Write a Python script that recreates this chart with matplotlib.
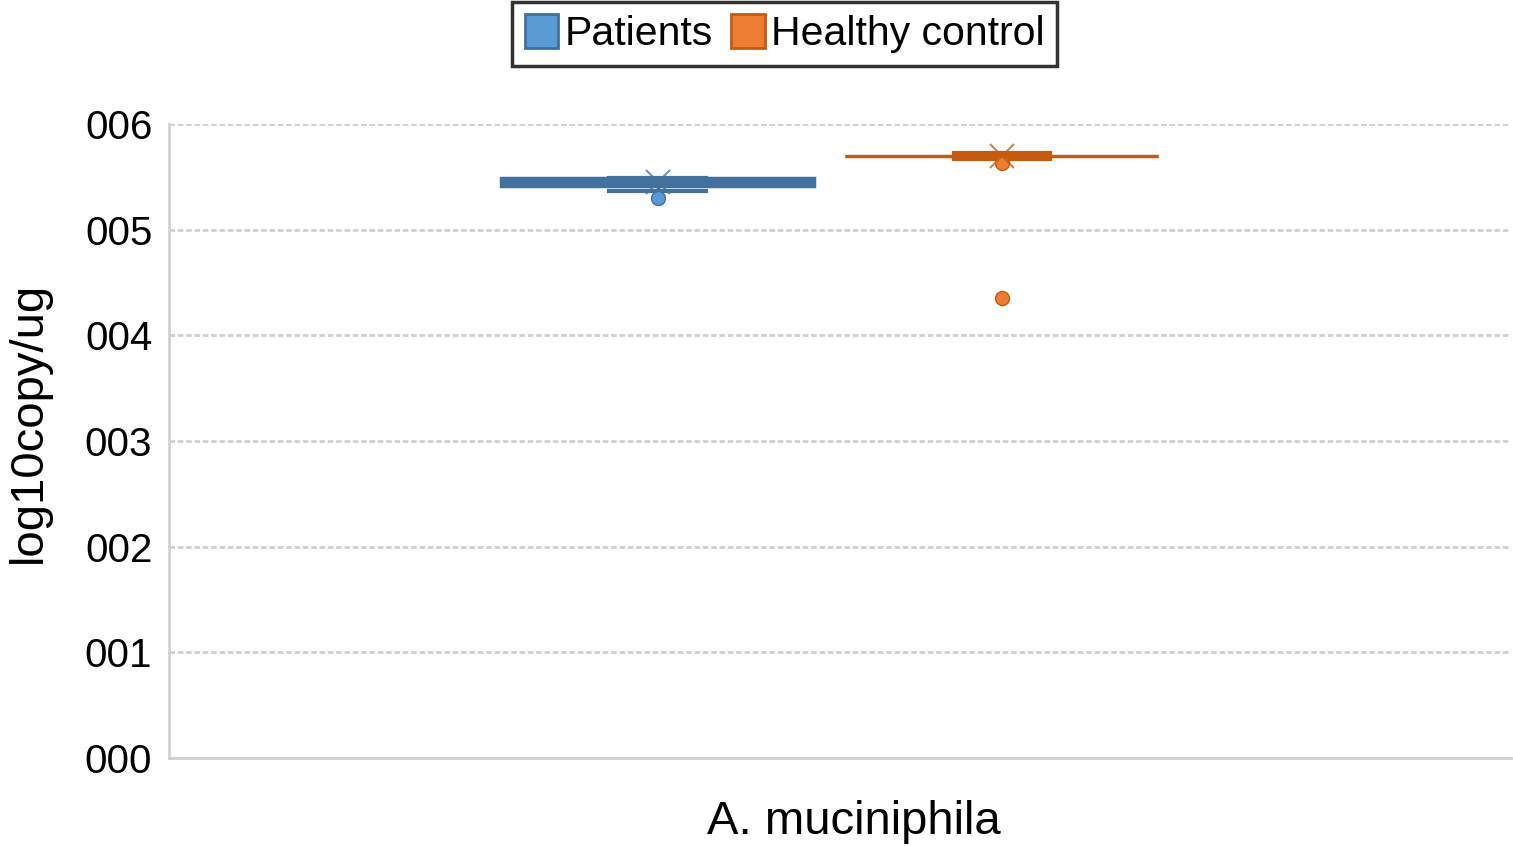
import matplotlib
matplotlib.use('Agg')
import matplotlib.pyplot as plt
from matplotlib.patches import Patch

plt.rcParams['font.family'] = ['Liberation Sans', 'DejaVu Sans']

groups = ['Patients', 'Healthy control']
category = 'A. muciniphila'
q1 = [5.413, 5.697]
q3 = [5.489, 5.700]
med = [5.45, 5.698]
whislo = [5.366, 5.670]
whishi = [5.489, 5.730]
means = [5.45, 5.70]
fliers = [[5.30], [5.63, 4.35]]
yticks = [0, 1, 2, 3, 4, 5, 6]
ytick_labels = ['000', '001', '002', '003', '004', '005', '006']

fill_colors = ['#5B9BD5', '#ED7D31']
edge_colors = ['#41719C', '#C55A11']


def main():
    fig = plt.figure(figsize=(15.13, 8.46), dpi=100)
    ax = fig.add_axes([0.1117, 0.104, 0.887, 0.7494])

    for i in range(len(groups)):
        stats = [{'med': med[i], 'q1': q1[i], 'q3': q3[i],
                  'whislo': whislo[i], 'whishi': whishi[i],
                  'mean': means[i], 'fliers': fliers[i]}]
        ec = edge_colors[i]
        # boxes are so flat that Excel shows them as a solid bar
        ax.bxp(stats, positions=[i], widths=0.91, capwidths=0.28,
               patch_artist=True, showmeans=True,
               boxprops=dict(facecolor=ec, edgecolor=ec, linewidth=2.5),
               medianprops=dict(color=ec, linewidth=2),
               whiskerprops=dict(color=ec, linewidth=2.5),
               capprops=dict(color=ec, linewidth=3),
               meanprops=dict(marker='x', markeredgecolor=ec, markersize=17,
                              markeredgewidth=1.5, alpha=0.75),
               flierprops=dict(marker='o', markerfacecolor=fill_colors[i],
                               markeredgecolor=ec, markersize=10))

    ax.set_xlim(-1.42, 2.48)
    ax.set_ylim(0, 6)
    ax.set_yticks(yticks)
    ax.set_yticklabels(ytick_labels)
    ax.set_xticks([0.57])
    ax.set_xticklabels([category])
    ax.tick_params(axis='y', length=0, pad=12, labelsize=29)
    ax.tick_params(axis='x', length=0, pad=30, labelsize=34)
    ax.set_ylabel('log10copy/ug', fontsize=34)
    ax.yaxis.set_label_coords(-0.088, 0.53)

    ax.grid(axis='y', color='#d0d0d0', linestyle=(0, (2, 1)), linewidth=2)
    ax.set_axisbelow(True)
    for s in ['top', 'right']:
        ax.spines[s].set_visible(False)
    for s in ['left', 'bottom']:
        ax.spines[s].set_color('#d0d0d0')
        ax.spines[s].set_linestyle((0, (2, 1)))
        ax.spines[s].set_linewidth(2)

    handles = [Patch(facecolor=fill_colors[i], edgecolor=edge_colors[i], linewidth=2)
               for i in range(len(groups))]
    leg = fig.legend(handles, groups, loc='center', bbox_to_anchor=(0.5185, 0.96),
                     ncol=2, fontsize=29.5, frameon=True, fancybox=False,
                     handlelength=0.82, handleheight=0.9, handletextpad=0.15,
                     columnspacing=0.45, borderpad=0.3, borderaxespad=0)
    leg.get_frame().set_edgecolor('black')
    leg.get_frame().set_linewidth(2.5)

    fig.savefig('out.png', dpi=100)

main()
